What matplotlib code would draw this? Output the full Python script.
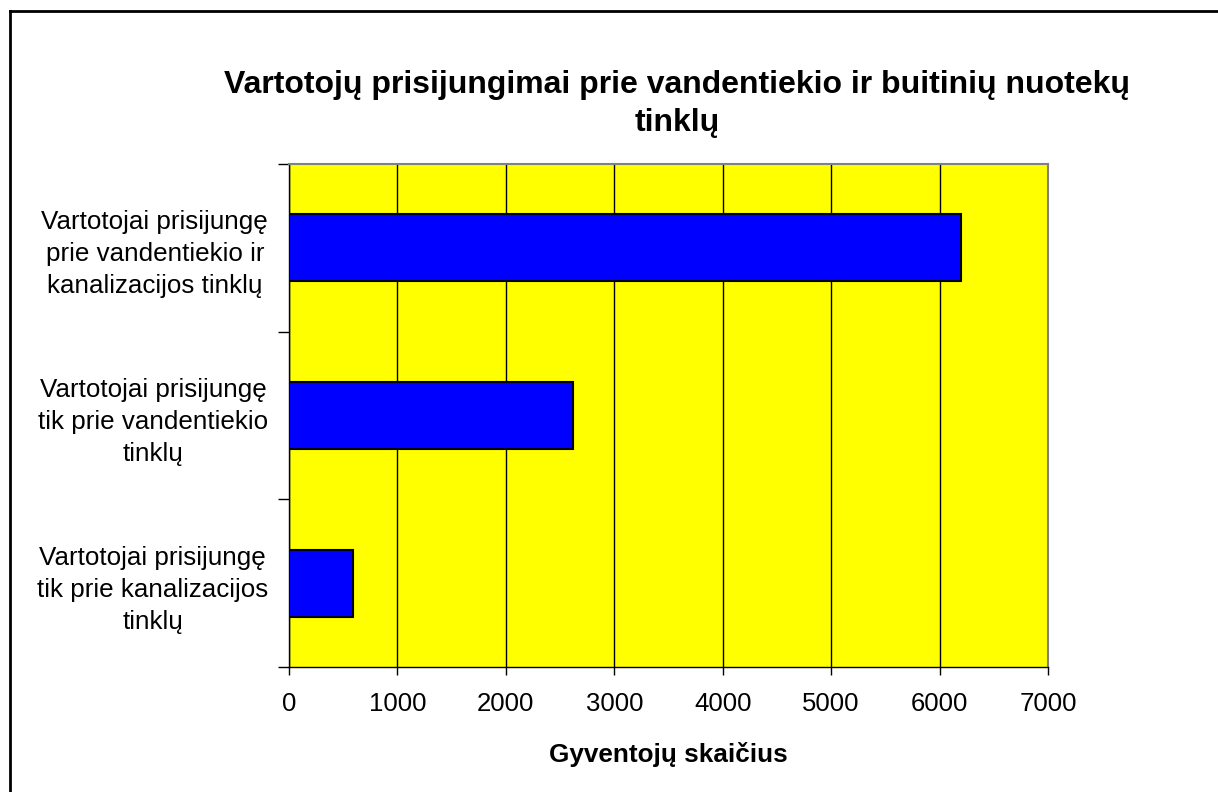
import matplotlib
matplotlib.use("Agg")
import matplotlib.pyplot as plt
from matplotlib.lines import Line2D

# Chart data
categories = [
    "Vartotojai prisijungę\nprie vandentiekio ir\nkanalizacijos tinklų",
    "Vartotojai prisijungę\ntik prie vandentiekio\ntinklų",
    "Vartotojai prisijungę\ntik prie kanalizacijos\ntinklų",
]
values = [6200, 2620, 590]
x_ticks = [0, 1000, 2000, 3000, 4000, 5000, 6000, 7000]

title = "Vartotojų prisijungimai prie vandentiekio ir buitinių nuotekų\ntinklų"
x_label = "Gyventojų skaičius"

W, H = 1218, 792
plt.rcParams["font.family"] = ["Liberation Sans", "DejaVu Sans"]

fig = plt.figure(figsize=(W / 100, H / 100), dpi=100)
fig.patch.set_facecolor("white")

# plot area in pixel coords
left, right, top, bottom = 289, 1048, 164, 667
ax = fig.add_axes([left / W, 1 - bottom / H, (right - left) / W, (bottom - top) / H])
ax.set_facecolor("#FFFF00")

pos = list(range(len(categories)))[::-1]
ax.barh(pos, values, height=0.4, color="#0000FF", edgecolor="black",
        linewidth=1.5, zorder=3)

ax.set_xlim(0, 7000)
ax.set_ylim(-0.5, len(categories) - 0.5)
ax.set_xticks(x_ticks)
ax.set_xticklabels([str(t) for t in x_ticks], fontsize=18.5)
ax.xaxis.grid(True, color="black", linewidth=1.0, zorder=1)
ax.set_axisbelow(True)

ax.set_yticks(pos)
ax.set_yticklabels(categories, fontsize=18.7, multialignment="center",
                   linespacing=1.42)
ax.tick_params(axis="y", length=0, pad=15)
ax.set_yticks([p - 0.5 for p in range(len(categories) + 1)], minor=True)
ax.tick_params(axis="y", which="minor", length=8, width=1, color="black")
ax.tick_params(axis="x", length=6, width=1, color="black", pad=12)

for s in ["top", "right"]:
    ax.spines[s].set_color("#808080")
    ax.spines[s].set_linewidth(1.5)
for s in ["left", "bottom"]:
    ax.spines[s].set_color("black")
    ax.spines[s].set_linewidth(1.0)

ax.set_xlabel(x_label, fontsize=18.8, fontweight="bold", labelpad=19)

fig.text(677 / W, 1 - 104 / H, title, ha="center", va="center",
         fontsize=23, fontweight="bold", linespacing=1.35)

# outer chart frame (only left and top edges visible)
fig.add_artist(Line2D([9.5 / W, 9.5 / W], [0, 1 - 11 / H], transform=fig.transFigure,
                      color="black", linewidth=2))
fig.add_artist(Line2D([9.5 / W, 1], [1 - 11 / H, 1 - 11 / H], transform=fig.transFigure,
                      color="black", linewidth=2))

fig.savefig("out.png", dpi=100)
